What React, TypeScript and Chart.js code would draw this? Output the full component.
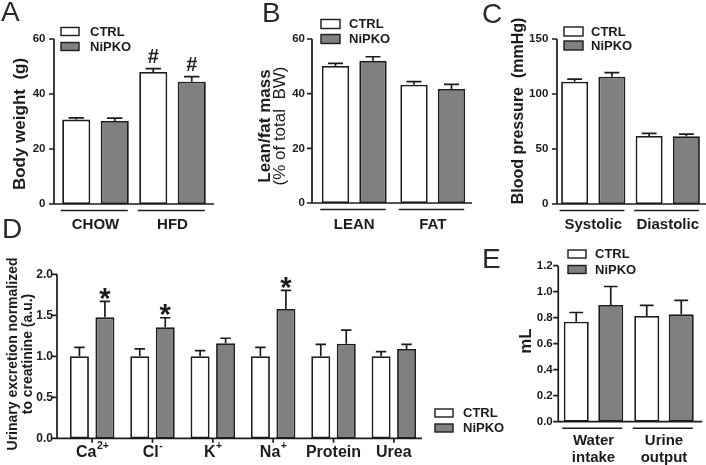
import React, { useEffect, useRef } from 'react';
import { Chart, registerables } from 'chart.js';

Chart.register(...registerables);

const FONT = '"Liberation Sans", Arial, Helvetica, sans-serif';
const INK = '#1c1c1c';
const GRAY = '#808080';
const W = 706;
const H = 465;

// ---------- Panel A : body weight ----------
const aCategories = ['CHOW', 'HFD'];
const aCtrl = [30.7, 48.0];
const aCtrlErr = [0.6, 1.2];
const aNipko = [30.2, 44.5];
const aNipkoErr = [1.0, 1.8];
const aCtrlMarks = ['', '#'];
const aNipkoMarks = ['', '#'];
const aYTicks = [0, 20, 40, 60];

// ---------- Panel B : lean / fat mass ----------
const bCategories = ['LEAN', 'FAT'];
const bCtrl = [50.1, 43.3];
const bCtrlErr = [1.0, 1.1];
const bNipko = [52.0, 41.7];
const bNipkoErr = [1.5, 1.7];
const bYTicks = [0, 20, 40, 60];

// ---------- Panel C : blood pressure ----------
const cCategories = ['Systolic', 'Diastolic'];
const cCtrl = [111.2, 61.8];
const cCtrlErr = [2.4, 2.4];
const cNipko = [115.7, 61.6];
const cNipkoErr = [3.7, 1.9];
const cYTicks = [0, 50, 100, 150];

// ---------- Panel D : urinary excretion ----------
const dCategories = ['Ca', 'Cl', 'K', 'Na', 'Protein', 'Urea'];
const dCategorySup = ['2+', '-', '+', '+', '', ''];
const dCtrl = [1.0, 1.0, 1.0, 1.0, 1.0, 1.0];
const dCtrlErr = [0.11, 0.09, 0.07, 0.11, 0.145, 0.056];
const dNipko = [1.475, 1.354, 1.16, 1.577, 1.154, 1.089];
const dNipkoErr = [0.195, 0.116, 0.06, 0.228, 0.166, 0.057];
const dNipkoMarks = ['*', '*', '', '*', '', ''];
const dYTicks = [0, 0.5, 1.0, 1.5, 2.0];

// ---------- Panel E : water intake / urine output ----------
const eCategories = [['Water', 'intake'], ['Urine', 'output']];
const eCtrl = [0.769, 0.813];
const eCtrlErr = [0.071, 0.082];
const eNipko = [0.898, 0.826];
const eNipkoErr = [0.142, 0.108];
const eYTicks = [0, 0.2, 0.4, 0.6, 0.8, 1.0, 1.2];

const seriesNames = ['CTRL', 'NiPKO'];

type TitleLine = { text: string; bold: boolean; cx: number };
type Panel = {
  key: string;
  letter: string;
  letterX: number;
  letterY: number;
  categories: (string | string[])[];
  sups?: string[];
  ctrl: number[];
  ctrlErr: number[];
  nipko: number[];
  nipkoErr: number[];
  ctrlMarks?: string[];
  nipkoMarks?: string[];
  markSize: number;
  markOffset: number;
  yTicks: number[];
  decimals: number;
  area: { left: number; right: number; top: number; bottom: number };
  axisOffset: number;
  xLineExtend: number;
  catPct: number;
  barPct: number;
  tickPad: number;
  tickSize: number;
  titleSize: number;
  titleCy: number;
  titles: TitleLine[];
  legend: { boxX: number; textX: number; ys: number[]; boxW: number; boxH: number };
  groupLines: boolean;
  catTicks: boolean;
  labelSize: number;
  labelBaselines: number[];
  supSize?: number;
  supBaseline?: number;
};

const panels: Panel[] = [
  {
    key: 'A', letter: 'A', letterX: 1, letterY: 20.5,
    categories: aCategories, ctrl: aCtrl, ctrlErr: aCtrlErr, nipko: aNipko, nipkoErr: aNipkoErr,
    ctrlMarks: aCtrlMarks, nipkoMarks: aNipkoMarks, markSize: 20, markOffset: -6,
    yTicks: aYTicks, decimals: 0,
    area: { left: 57, right: 211, top: 39, bottom: 204 }, axisOffset: -3, xLineExtend: 3,
    catPct: 1, barPct: 0.73, tickPad: 11.5, tickSize: 11.5,
    titleSize: 17, titleCy: 124, titles: [{ text: 'Body weight  (g)', bold: true, cx: 20 }],
    legend: { boxX: 61, textX: 90, ys: [31.5, 46.5], boxW: 18, boxH: 8 },
    groupLines: true, catTicks: false, labelSize: 15, labelBaselines: [228.5],
  },
  {
    key: 'B', letter: 'B', letterX: 262, letterY: 22,
    categories: bCategories, ctrl: bCtrl, ctrlErr: bCtrlErr, nipko: bNipko, nipkoErr: bNipkoErr,
    markSize: 20, markOffset: -6,
    yTicks: bYTicks, decimals: 0,
    area: { left: 315, right: 472, top: 39, bottom: 203 }, axisOffset: -3, xLineExtend: 0,
    catPct: 0.955, barPct: 0.73, tickPad: 10, tickSize: 11.5,
    titleSize: 17, titleCy: 126,
    titles: [
      { text: 'Lean/fat mass', bold: true, cx: 265 },
      { text: '(% of total  BW)', bold: false, cx: 280 },
    ],
    legend: { boxX: 321, textX: 349, ys: [24, 39], boxW: 19, boxH: 9 },
    groupLines: true, catTicks: false, labelSize: 15, labelBaselines: [228.5],
  },
  {
    key: 'C', letter: 'C', letterX: 482, letterY: 22.5,
    categories: cCategories, ctrl: cCtrl, ctrlErr: cCtrlErr, nipko: cNipko, nipkoErr: cNipkoErr,
    markSize: 20, markOffset: -6,
    yTicks: cYTicks, decimals: 0,
    area: { left: 556, right: 705, top: 39, bottom: 204 }, axisOffset: 1, xLineExtend: 1,
    catPct: 1, barPct: 0.725, tickPad: 7.7, tickSize: 11.5,
    titleSize: 16, titleCy: 111, titles: [{ text: 'Blood pressure  (mmHg)', bold: true, cx: 519 }],
    legend: { boxX: 564, textX: 591, ys: [31.5, 45.5], boxW: 19, boxH: 9 },
    groupLines: true, catTicks: false, labelSize: 15, labelBaselines: [228.5],
  },
  {
    key: 'D', letter: 'D', letterX: 2, letterY: 238,
    categories: dCategories, sups: dCategorySup,
    ctrl: dCtrl, ctrlErr: dCtrlErr, nipko: dNipko, nipkoErr: dNipkoErr,
    nipkoMarks: dNipkoMarks, markSize: 29, markOffset: 6.5,
    yTicks: dYTicks, decimals: 1,
    area: { left: 62, right: 424, top: 274.3, bottom: 438.3 }, axisOffset: -5, xLineExtend: -2,
    catPct: 0.845, barPct: 0.745, tickPad: 9, tickSize: 12,
    titleSize: 14, titleCy: 354,
    titles: [
      { text: 'Urinary excretion normalized', bold: true, cx: 13 },
      { text: 'to creatinine (a.u.)', bold: true, cx: 28.5 },
    ],
    legend: { boxX: 435, textX: 463, ys: [413, 428], boxW: 18, boxH: 8 },
    groupLines: false, catTicks: true, labelSize: 16, labelBaselines: [457],
    supSize: 10.5, supBaseline: 449,
  },
  {
    key: 'E', letter: 'E', letterX: 482, letterY: 268,
    categories: eCategories, ctrl: eCtrl, ctrlErr: eCtrlErr, nipko: eNipko, nipkoErr: eNipkoErr,
    markSize: 20, markOffset: -6,
    yTicks: eYTicks, decimals: 1,
    area: { left: 558.25, right: 699.25, top: 265.7, bottom: 421.7 }, axisOffset: 0, xLineExtend: 3,
    catPct: 0.979, barPct: 0.725, tickPad: 5.5, tickSize: 11.5,
    titleSize: 17, titleCy: 341, titles: [{ text: 'mL', bold: true, cx: 526 }],
    legend: { boxX: 568, textX: 595, ys: [254, 269.5], boxW: 18, boxH: 8 },
    groupLines: true, catTicks: false, labelSize: 15, labelBaselines: [445, 462],
  },
];

const Y_AXIS_W = 30;

function font(size: number, bold: boolean) {
  return `${bold ? 'bold ' : ''}${size}px ${FONT}`;
}

function decorPlugin(p: Panel) {
  return {
    id: 'decor' + p.key,
    afterDatasetsDraw(chart: any) {
      const ctx: CanvasRenderingContext2D = chart.ctx;
      const { left, right, top, bottom } = chart.chartArea;
      const xs = chart.scales.x;
      const ys = chart.scales.y;
      const ax = left + p.axisOffset;
      ctx.save();
      ctx.strokeStyle = INK;
      ctx.fillStyle = INK;
      ctx.lineCap = 'butt';

      // axes
      ctx.lineWidth = 1.7;
      ctx.beginPath();
      ctx.moveTo(ax, top);
      ctx.lineTo(ax, bottom);
      ctx.moveTo(ax - 0.85, bottom);
      ctx.lineTo(right + p.xLineExtend, bottom);
      ys.ticks.forEach((t: any) => {
        const y = ys.getPixelForValue(t.value);
        ctx.moveTo(ax - 5, y);
        ctx.lineTo(ax, y);
      });
      if (p.catTicks) {
        p.categories.forEach((_, i) => {
          const x = xs.getPixelForValue(i);
          ctx.moveTo(x, bottom);
          ctx.lineTo(x, bottom + 4.5);
        });
      }
      ctx.stroke();

      // error bars and marks
      const vals = [p.ctrl, p.nipko];
      const errs = [p.ctrlErr, p.nipkoErr];
      const marks = [p.ctrlMarks, p.nipkoMarks];
      const extents: { l: number; r: number }[] = p.categories.map(() => ({ l: Infinity, r: -Infinity }));
      for (let di = 0; di < 2; di++) {
        const meta = chart.getDatasetMeta(di);
        meta.data.forEach((el: any, i: number) => {
          const x = el.x;
          const w = el.width;
          extents[i].l = Math.min(extents[i].l, x - w / 2);
          extents[i].r = Math.max(extents[i].r, x + w / 2);
          const yTop = ys.getPixelForValue(vals[di][i]);
          const yErr = ys.getPixelForValue(vals[di][i] + errs[di][i]);
          const cap = w * 0.55;
          ctx.lineWidth = 1.7;
          ctx.beginPath();
          ctx.moveTo(x, yTop);
          ctx.lineTo(x, yErr);
          ctx.moveTo(x - cap / 2, yErr);
          ctx.lineTo(x + cap / 2, yErr);
          ctx.stroke();
          const m = marks[di] ? marks[di]![i] : '';
          if (m) {
            ctx.font = font(p.markSize, true);
            ctx.textAlign = 'center';
            ctx.textBaseline = 'alphabetic';
            ctx.fillText(m, x, yErr + p.markOffset);
          }
        });
      }

      // group lines
      if (p.groupLines) {
        ctx.lineWidth = 1.5;
        ctx.beginPath();
        extents.forEach((e) => {
          ctx.moveTo(e.l - 1.5, bottom + 6.5);
          ctx.lineTo(e.r - 1, bottom + 6.5);
        });
        ctx.stroke();
      }

      // category labels
      ctx.textBaseline = 'alphabetic';
      p.categories.forEach((c, i) => {
        const cx = xs.getPixelForValue(i);
        const lines = Array.isArray(c) ? c : [c];
        const sup = p.sups ? p.sups[i] : '';
        if (sup) {
          ctx.font = font(p.labelSize, true);
          const wb = ctx.measureText(lines[0]).width;
          ctx.font = font(p.supSize || 10, true);
          const ws = ctx.measureText(sup).width;
          const x0 = cx - (wb + ws) / 2;
          ctx.textAlign = 'left';
          ctx.font = font(p.labelSize, true);
          ctx.fillText(lines[0], x0, p.labelBaselines[0]);
          ctx.font = font(p.supSize || 10, true);
          ctx.fillText(sup, x0 + wb + 0.5, p.supBaseline || p.labelBaselines[0] - 8);
        } else {
          ctx.textAlign = 'center';
          ctx.font = font(p.labelSize, true);
          lines.forEach((t, li) => ctx.fillText(t, cx, p.labelBaselines[li]));
        }
      });

      // legend
      chart.data.datasets.forEach((ds: any, di: number) => {
        const yc = p.legend.ys[di];
        ctx.fillStyle = ds.backgroundColor;
        ctx.fillRect(p.legend.boxX, yc - p.legend.boxH / 2, p.legend.boxW, p.legend.boxH);
        ctx.lineWidth = 1.4;
        ctx.strokeStyle = INK;
        ctx.strokeRect(p.legend.boxX, yc - p.legend.boxH / 2, p.legend.boxW, p.legend.boxH);
        ctx.fillStyle = INK;
        ctx.font = font(13, true);
        ctx.textAlign = 'left';
        ctx.textBaseline = 'middle';
        ctx.fillText(ds.label, p.legend.textX, yc + 0.5);
      });

      // y title
      p.titles.forEach((t) => {
        ctx.save();
        ctx.translate(t.cx, p.titleCy);
        ctx.rotate(-Math.PI / 2);
        ctx.font = font(p.titleSize, t.bold);
        ctx.textAlign = 'center';
        ctx.textBaseline = 'middle';
        ctx.fillStyle = INK;
        ctx.fillText(t.text, 0, 0);
        ctx.restore();
      });

      // panel letter
      ctx.font = font(28, false);
      ctx.textAlign = 'left';
      ctx.textBaseline = 'alphabetic';
      ctx.fillStyle = '#2a2a2a';
      ctx.fillText(p.letter, p.letterX, p.letterY);
      ctx.restore();
    },
  };
}

function makeConfig(p: Panel): any {
  const maxTick = p.yTicks[p.yTicks.length - 1];
  return {
    type: 'bar',
    data: {
      labels: p.categories.map((c) => (Array.isArray(c) ? c.join(' ') : c)),
      datasets: [
        {
          label: seriesNames[0], data: p.ctrl, backgroundColor: '#ffffff', borderColor: INK,
          borderWidth: 1.8, borderSkipped: false, categoryPercentage: p.catPct, barPercentage: p.barPct,
        },
        {
          label: seriesNames[1], data: p.nipko, backgroundColor: GRAY, borderColor: INK,
          borderWidth: 1.8, borderSkipped: false, categoryPercentage: p.catPct, barPercentage: p.barPct,
        },
      ],
    },
    options: {
      responsive: false,
      animation: false,
      devicePixelRatio: 1,
      events: [],
      layout: {
        autoPadding: false,
        padding: {
          left: p.area.left - Y_AXIS_W,
          top: p.area.top,
          right: W - p.area.right,
          bottom: H - p.area.bottom,
        },
      },
      plugins: { legend: { display: false }, tooltip: { enabled: false }, title: { display: false } },
      scales: {
        x: {
          type: 'category',
          display: false,
          offset: true,
          afterFit: (s: any) => { s.height = 0; s.paddingLeft = 0; s.paddingRight = 0; },
        },
        y: {
          type: 'linear',
          min: p.yTicks[0],
          max: maxTick,
          afterBuildTicks: (s: any) => { s.ticks = p.yTicks.map((v) => ({ value: v })); },
          afterFit: (s: any) => { s.width = Y_AXIS_W; s.paddingTop = 0; s.paddingBottom = 0; },
          grid: { display: false, drawTicks: false },
          border: { display: false },
          ticks: {
            padding: p.tickPad,
            color: INK,
            font: { family: FONT, size: p.tickSize, weight: 'bold' },
            callback: (v: any) => Number(v).toFixed(p.decimals),
          },
        },
      },
    },
    plugins: [decorPlugin(p)],
  };
}

function PanelChart({ p }: { p: Panel }) {
  const ref = useRef<HTMLCanvasElement>(null);
  useEffect(() => {
    if (!ref.current) return;
    const chart = new Chart(ref.current, makeConfig(p));
    return () => chart.destroy();
  }, [p]);
  return (
    <canvas
      ref={ref}
      width={W}
      height={H}
      style={{ position: 'absolute', left: 0, top: 0, width: W, height: H, display: 'block' }}
    />
  );
}

export default function App() {
  return (
    <div style={{ position: 'absolute', left: 0, top: 0, width: W, height: H, background: '#ffffff', overflow: 'hidden' }}>
      {panels.map((p) => (
        <PanelChart key={p.key} p={p} />
      ))}
    </div>
  );
}
